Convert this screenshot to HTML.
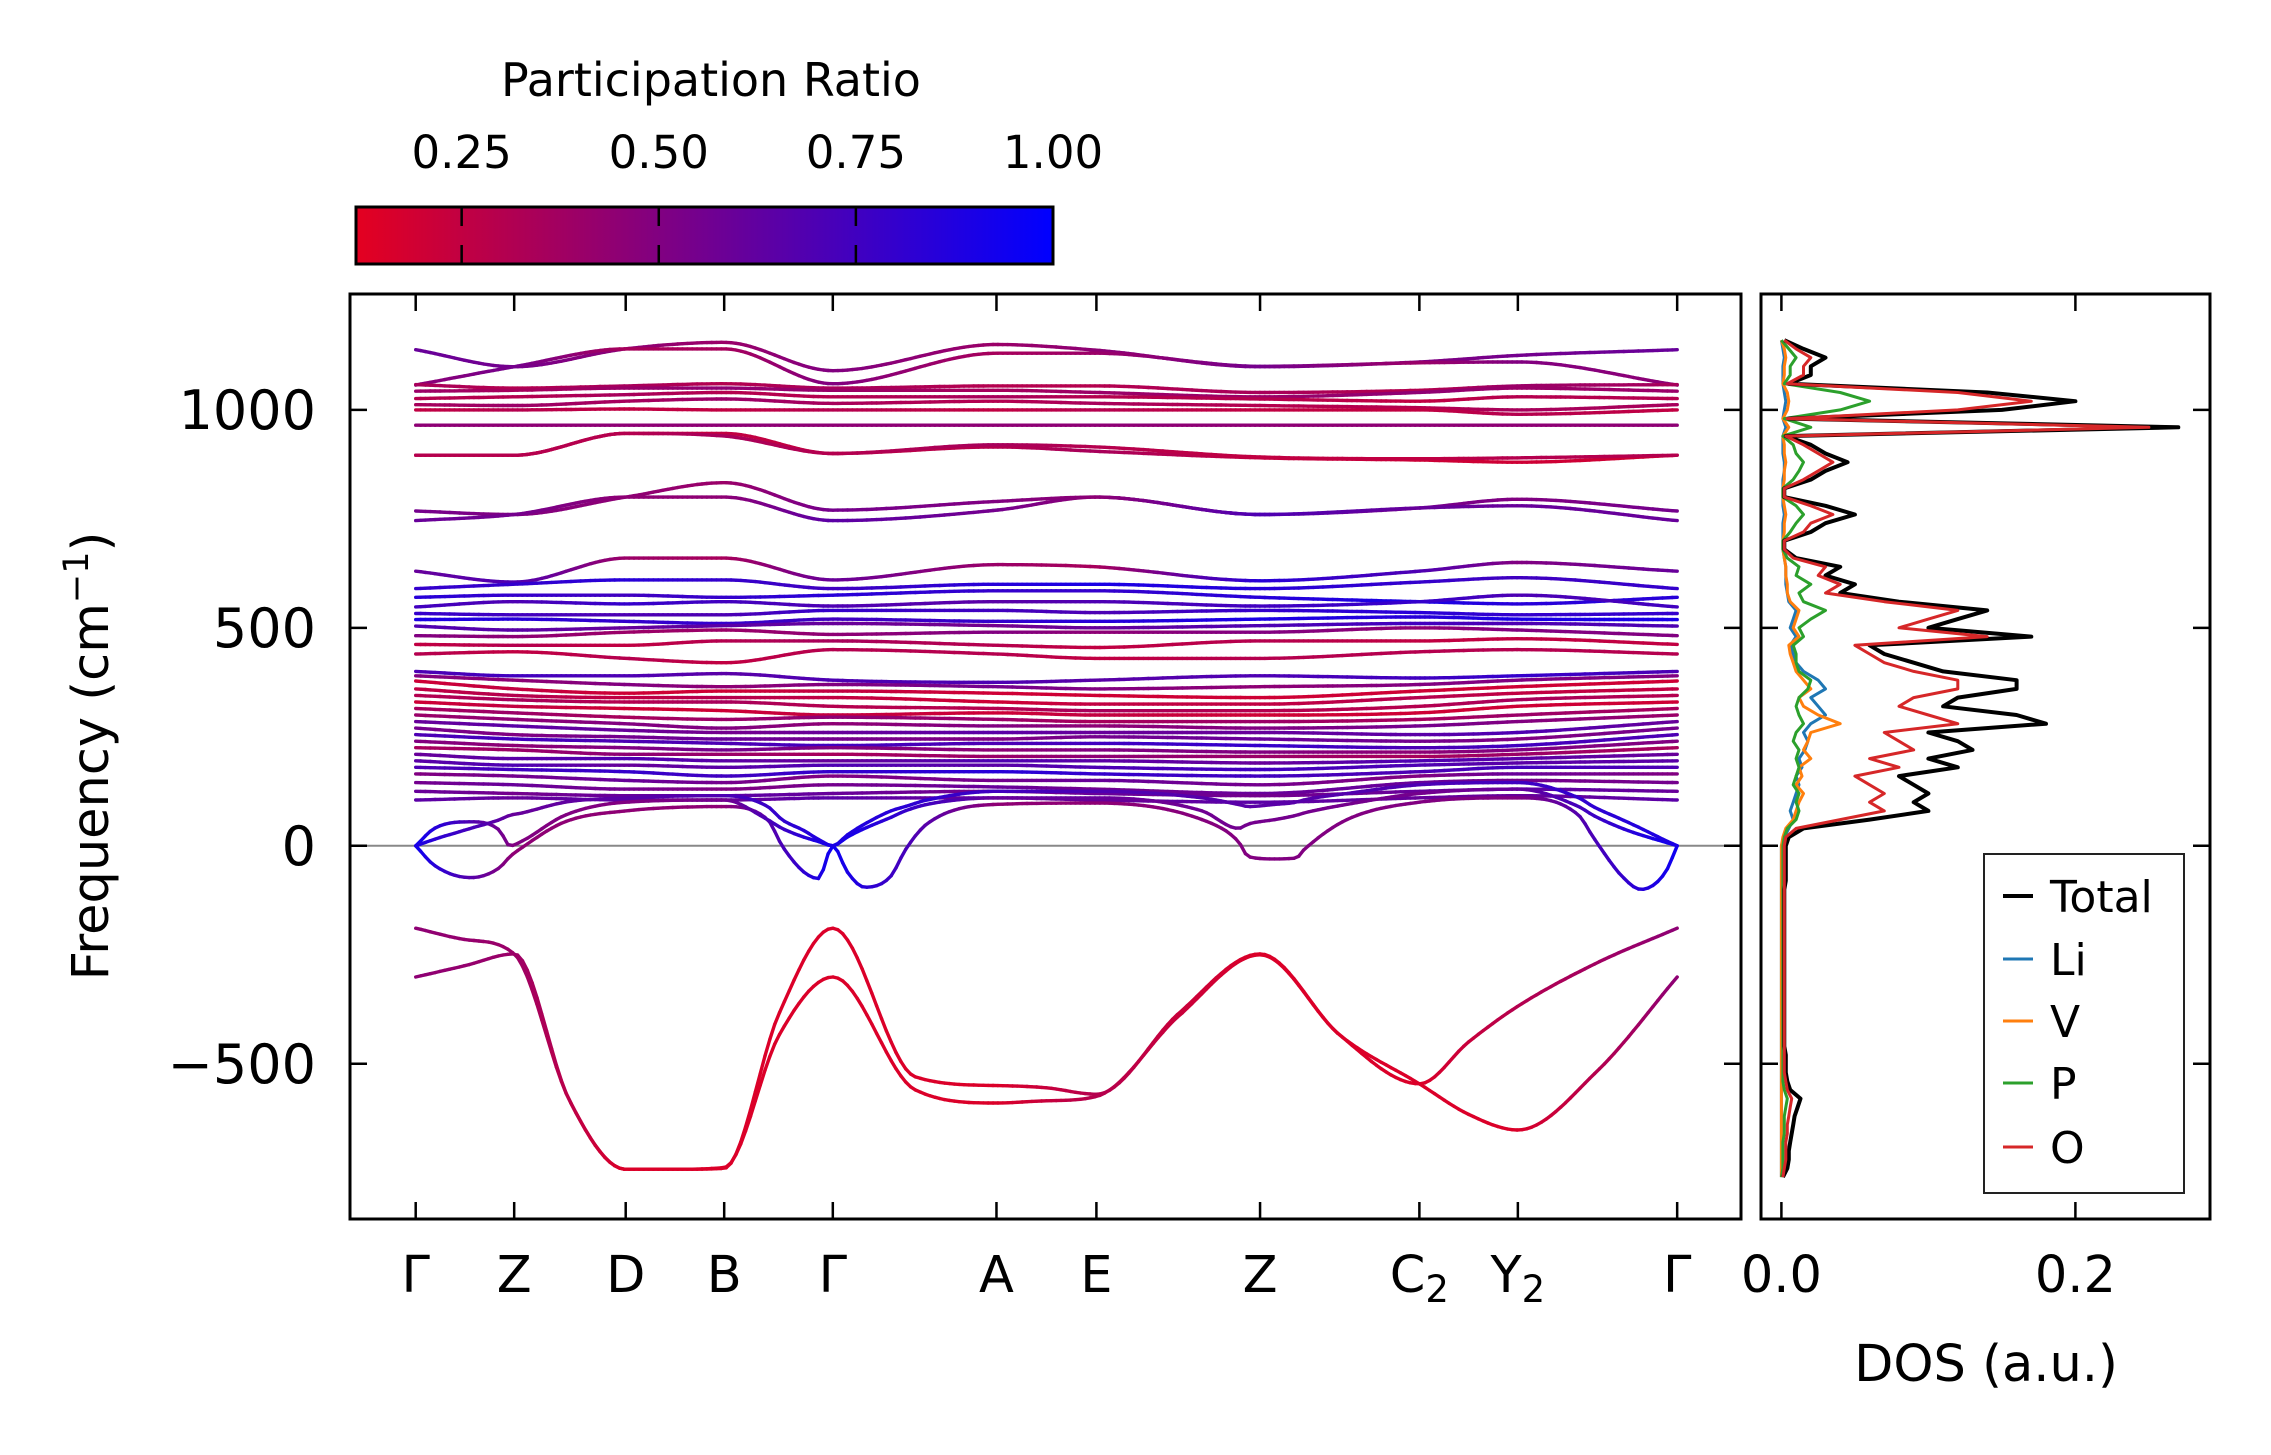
<!DOCTYPE html>
<html><head><meta charset="utf-8">
<style>
html,body{margin:0;padding:0;background:#fff;}
svg{display:block;font-family:"DejaVu Sans","Liberation Sans",sans-serif;}
</style></head>
<body>
<svg id="fig" width="2271" height="1455" viewBox="0 0 2271 1455" xmlns="http://www.w3.org/2000/svg">
<defs>
<linearGradient id="cmap" x1="0" x2="1" y1="0" y2="0">
<stop offset="0" stop-color="rgb(228,0,32)"/>
<stop offset="1" stop-color="rgb(0,0,255)"/>
</linearGradient>
</defs>
<rect x="0" y="0" width="2271" height="1455" fill="#fff"/>
<g id="colorbar">
<text x="711" y="96" font-size="46" text-anchor="middle">Participation Ratio</text>
<rect x="356" y="207" width="697" height="57" fill="url(#cmap)" stroke="#000" stroke-width="3"/>
</g>
<g id="bands"></g>
<g id="dos"></g>
<g id="axes"></g>
</svg>
<script>
// ---------- data ----------
const hsLabels = ["Γ","Z","D","B","Γ","A","E","Z","C2","Y2","Γ"];
const hsPos = [0, 68, 145, 213, 288, 401, 470, 583, 693, 761, 871];
const yTicks = [-500, 0, 500, 1000];
const dosTicks = [0.0, 0.2];
const cbTicks = [0.25, 0.50, 0.75, 1.00];

const opt = [
[1138,1099,1140,1155,1090,1150,1137,1099,1110,1125,1138],
[1057,1099,1140,1140,1060,1130,1130,1100,1108,1110,1057],
[1058,1050,1055,1060,1050,1055,1055,1040,1045,1055,1058],
[1043,1045,1050,1050,1045,1045,1040,1030,1040,1050,1043],
[1026,1030,1035,1040,1030,1030,1030,1025,1020,1030,1026],
[1012,1010,1020,1025,1015,1020,1015,1010,1005,1000,1012],
[1000,1000,1002,1000,1000,1000,1000,1000,1000,990,1000],
[965,965,965,965,965,965,965,965,965,965,965],
[896,896,946,946,900,915,905,890,885,880,896],
[896,896,946,940,900,920,915,892,888,890,896],
[768,760,800,833,770,790,800,760,775,795,768],
[746,760,800,800,746,770,800,760,775,780,746],
[630,605,660,660,610,645,640,608,630,650,630],
[590,600,610,610,590,600,600,590,605,615,590],
[570,575,575,570,575,585,585,570,560,555,570],
[548,560,555,560,550,560,560,550,560,575,548],
[533,530,530,530,540,540,535,540,535,530,533],
[519,520,515,510,520,515,515,520,525,520,519],
[504,495,500,505,510,505,500,505,510,510,504],
[482,480,490,495,485,490,490,490,500,495,482],
[462,460,460,470,470,460,455,470,470,475,462],
[440,445,430,420,450,440,430,430,445,450,440],
[400,390,390,395,380,375,380,390,385,390,400],
[390,380,370,365,370,365,360,365,370,380,390],
[378,360,350,355,355,350,345,340,355,365,378],
[360,345,340,340,340,330,325,325,340,350,360],
[345,335,330,330,320,315,310,310,320,335,345],
[330,320,315,310,300,305,300,300,305,320,330],
[315,305,295,290,295,290,285,285,290,300,315],
[300,290,280,270,280,275,275,270,275,285,300],
[285,275,265,260,260,260,260,260,255,260,285],
[270,255,250,245,245,245,250,245,240,245,270],
[255,245,240,235,230,235,235,230,225,230,255],
[240,230,225,220,225,220,220,215,215,220,240],
[225,220,210,210,210,205,205,205,205,210,225],
[210,200,200,195,195,195,195,190,195,200,210],
[195,185,185,180,185,185,180,175,185,190,195],
[180,175,170,160,170,170,165,160,170,180,180],
[165,160,150,145,160,150,150,140,160,165,165],
[145,140,130,130,140,135,130,120,145,150,145],
[125,120,115,115,120,125,120,115,125,130,125],
[105,110,105,105,110,110,105,100,110,115,105]
];
const optPR = [
[.6,.55,.45,.4,.5,.4,.45,.55,.5,.55,.6],
[.45,.55,.35,.35,.5,.35,.4,.55,.4,.5,.45],
[.35,.3,.35,.3,.35,.3,.3,.35,.3,.4,.35],
[.4,.35,.4,.45,.4,.35,.4,.4,.45,.4,.4],
[.3,.3,.35,.3,.3,.35,.3,.3,.25,.3,.3],
[.35,.4,.35,.4,.35,.3,.35,.3,.3,.35,.35],
[.25,.3,.25,.25,.3,.25,.3,.25,.25,.3,.25],
[.45,.45,.45,.45,.45,.45,.45,.45,.45,.45,.45],
[.2,.2,.2,.25,.25,.3,.35,.25,.2,.2,.2],
[.3,.3,.3,.35,.3,.35,.3,.25,.25,.3,.3],
[.55,.5,.45,.4,.55,.5,.45,.65,.55,.5,.55],
[.6,.55,.45,.45,.65,.55,.45,.7,.6,.6,.6],
[.6,.7,.4,.35,.6,.4,.35,.85,.7,.5,.6],
[.8,.8,.85,.8,.75,.85,.9,.85,.8,.75,.8],
[.85,.8,.75,.8,.85,.8,.8,.85,.9,.85,.85],
[.75,.7,.8,.75,.7,.65,.7,.75,.8,.7,.75],
[.8,.75,.7,.7,.8,.75,.7,.8,.85,.8,.8],
[.9,.85,.8,.8,.75,.8,.85,.9,.85,.9,.9],
[.7,.65,.6,.65,.6,.55,.6,.7,.75,.7,.7],
[.5,.45,.4,.4,.45,.5,.45,.5,.45,.5,.5],
[.25,.3,.25,.3,.35,.3,.25,.3,.25,.25,.25],
[.3,.25,.3,.25,.3,.3,.25,.3,.3,.3,.3],
[.7,.75,.7,.65,.7,.7,.65,.7,.75,.8,.7],
[.5,.45,.5,.45,.5,.55,.5,.45,.5,.5,.5],
[.2,.25,.2,.2,.25,.2,.2,.2,.2,.2,.2],
[.25,.3,.25,.3,.25,.2,.25,.25,.3,.25,.25],
[.3,.35,.3,.35,.3,.3,.35,.3,.3,.35,.3],
[.2,.25,.2,.2,.25,.2,.25,.2,.2,.2,.2],
[.35,.4,.35,.4,.45,.4,.35,.4,.35,.4,.35],
[.4,.45,.5,.5,.45,.5,.45,.5,.55,.5,.4],
[.6,.65,.6,.55,.6,.65,.6,.6,.65,.7,.6],
[.55,.5,.55,.6,.55,.5,.55,.6,.55,.5,.55],
[.7,.75,.7,.7,.75,.7,.75,.8,.7,.75,.7],
[.5,.45,.5,.55,.5,.45,.5,.5,.45,.5,.5],
[.35,.4,.45,.4,.35,.4,.45,.4,.35,.4,.35],
[.6,.65,.7,.65,.6,.7,.65,.6,.7,.65,.6],
[.65,.7,.6,.65,.7,.65,.7,.75,.7,.65,.65],
[.7,.75,.8,.75,.8,.85,.8,.75,.7,.75,.7],
[.5,.55,.6,.55,.5,.55,.6,.55,.5,.6,.5],
[.55,.6,.55,.5,.55,.6,.55,.6,.6,.55,.55],
[.6,.55,.6,.65,.6,.55,.6,.55,.6,.65,.6],
[.65,.6,.65,.6,.65,.6,.6,.65,.6,.6,.65]
];

const negK = [0,34,68,106,145,179,213,251,288,345,401,435,470,527,583,638,693,727,761,816,871];
const negBand1 = [-189,-215,-248,-583,-742,-742,-740,-384,-189,-530,-550,-555,-570,-384,-248,-434,-546,-450,-368,-268,-189];
const negBand2 = [-301,-275,-248,-583,-742,-742,-738,-434,-301,-560,-590,-585,-575,-390,-250,-434,-546,-616,-652,-516,-301];
const negPR1 = [.45,.4,.15,.15,.15,.15,.3,.15,.15,.3,.45];
const negPR2 = [.45,.4,.15,.15,.15,.15,.3,.15,.15,.15,.45];

const acK = [0,13,38,58,65,73,103,145,213,243,253,268,278,288,298,310,328,338,353,401,470,543,568,575,593,608,613,643,693,761,803,813,833,846,863,871];
const acA = [0,-45,-73,-50,-25,-5,55,80,90,60,0,-60,-75,0,-60,-95,-70,-10,50,95,98,60,10,-25,-30,-28,-10,60,100,110,70,20,-70,-100,-60,0];
const acB = [0,40,55,35,0,10,70,100,105,60,40,20,10,0,20,40,65,80,95,110,110,80,40,50,60,70,75,95,120,130,90,70,40,25,8,0];
const acC = [0,15,40,60,70,75,100,110,115,90,60,35,15,0,25,50,80,90,105,125,125,110,95,90,95,100,105,120,140,145,110,90,60,40,12,0];
const acPR_A = [.95,.45,.45,.45,.95,.45,.45,.5,.5,.5,.95];
const acPR_B = [.95,.5,.5,.55,.95,.6,.6,.55,.55,.6,.95];
const acPR_C = [.9,.6,.65,.7,.9,.75,.7,.65,.7,.75,.9];

const dosFreq = [-760,-740,-720,-700,-680,-660,-640,-620,-600,-580,-560,-540,-520,-500,-480,-460,-440,-420,-400,-380,-360,-340,-320,-300,-280,-260,-240,-220,-200,-180,-160,-140,-120,-100,-80,-60,-40,-20,0,20,40,60,80,100,120,140,160,180,200,220,240,260,280,300,320,340,360,380,400,420,440,460,480,500,520,540,560,580,600,620,640,660,680,700,720,740,760,780,800,820,840,860,880,900,920,940,960,980,1000,1020,1040,1060,1080,1100,1120,1140,1160];
const dosTotal = [.001,.004,.005,.005,.006,.007,.008,.009,.011,.013,.006,.004,.003,.003,.003,.002,.002,.002,.002,.002,.002,.002,.002,.002,.002,.002,.002,.002,.002,.002,.002,.002,.002,.002,.003,.003,.003,.003,.003,.005,.015,.06,.10,.09,.10,.09,.08,.12,.10,.13,.12,.10,.18,.16,.11,.12,.16,.16,.11,.09,.07,.06,.17,.10,.12,.14,.08,.04,.05,.03,.04,.01,.002,.002,.02,.03,.05,.03,.002,.002,.02,.03,.045,.03,.02,.003,.27,.005,.15,.2,.14,.005,.02,.02,.03,.015,.002];
const dosO = [.001,.002,.003,.003,.003,.004,.004,.005,.006,.007,.004,.003,.002,.002,.002,.002,.002,.002,.002,.002,.002,.002,.002,.002,.002,.002,.002,.002,.002,.002,.002,.002,.002,.002,.002,.002,.002,.002,.002,.003,.01,.04,.07,.06,.07,.06,.05,.08,.06,.09,.08,.07,.12,.10,.08,.09,.12,.12,.09,.07,.06,.05,.14,.08,.10,.12,.07,.03,.04,.025,.03,.008,.002,.002,.015,.02,.035,.02,.002,.002,.015,.025,.035,.025,.015,.003,.25,.004,.12,.17,.12,.004,.015,.015,.02,.01,.002];
const dosLi = [0,0,0,0,0,0,0,0,0,0,0,0,0,0,0,0,0,0,0,0,0,0,0,0,0,0,0,0,0,0,0,0,0,0,0,0,0,0,0,.002,.005,.008,.006,.008,.010,.012,.010,.014,.012,.016,.018,.015,.02,.03,.025,.02,.03,.025,.015,.01,.008,.006,.01,.006,.008,.01,.005,.004,.003,.003,.003,.002,.001,.001,.001,.001,.002,.001,.001,.001,.001,.002,.002,.001,.001,.001,.003,.001,.002,.003,.002,.001,.001,.001,.002,.001,0];
const dosV = [0,0,0,0,0,0,0,0,0,0,0,0,0,0,0,0,0,0,0,0,0,0,0,0,0,0,0,0,0,0,0,0,0,0,0,0,0,0,0,.001,.003,.008,.01,.012,.015,.01,.014,.012,.02,.015,.018,.02,.04,.025,.015,.012,.02,.015,.01,.008,.006,.005,.012,.008,.01,.012,.006,.004,.004,.003,.003,.002,.001,.001,.002,.002,.003,.002,.001,.001,.002,.002,.003,.002,.002,.001,.005,.001,.004,.005,.004,.001,.002,.002,.003,.002,0];
const dosP = [0,.001,.001,.001,.001,.002,.002,.002,.003,.004,.002,.001,.001,.001,.001,.001,.001,.001,.001,.001,.001,.001,.001,.001,.001,.001,.001,.001,.001,.001,.001,.001,.001,.001,.001,.001,.001,.001,.001,.002,.004,.01,.012,.01,.012,.008,.01,.012,.01,.012,.008,.01,.015,.012,.01,.012,.018,.02,.012,.01,.01,.008,.015,.012,.02,.03,.015,.012,.02,.01,.012,.004,.001,.001,.006,.01,.015,.01,.001,.001,.008,.012,.015,.01,.008,.001,.02,.002,.04,.06,.04,.002,.006,.006,.01,.005,0];

// ---------- axes mapping ----------
const mainL=350, mainR=1741, mainT=294, mainB=1219;
const dosL=1761, dosR=2210;
function X(k){ return 415.7 + k*1.4483; }
function Y(f){ return 845.8 - f*0.4359; }
function XD(d){ return 1781.4 + d*1470; }
function cbX(v){ return 356 + (v-0.116)/(1-0.116)*697; }

const NS="http://www.w3.org/2000/svg";
function mk(tag, parent, attrs){
  const el=document.createElementNS(NS,tag);
  for(const k in attrs) el.setAttribute(k, attrs[k]);
  parent.appendChild(el); return el;
}
function monotone(xs, ys){
  const n=xs.length, d=[], m=new Array(n);
  for(let i=0;i<n-1;i++) d.push((ys[i+1]-ys[i])/(xs[i+1]-xs[i]));
  m[0]=d[0]; m[n-1]=d[n-2];
  for(let i=1;i<n-1;i++){ m[i]=(d[i-1]*d[i]<=0)?0:(d[i-1]+d[i])/2; }
  for(let i=0;i<n-1;i++){
    if(d[i]===0){m[i]=0;m[i+1]=0;continue;}
    const a=m[i]/d[i], b=m[i+1]/d[i], s=a*a+b*b;
    if(s>9){const t=3/Math.sqrt(s); m[i]=t*a*d[i]; m[i+1]=t*b*d[i];}
  }
  return function(x){
    let i=0; while(i<n-2 && x>xs[i+1]) i++;
    const h=xs[i+1]-xs[i], t=(x-xs[i])/h, t2=t*t, t3=t2*t;
    return (2*t3-3*t2+1)*ys[i]+(t3-2*t2+t)*h*m[i]+(-2*t3+3*t2)*ys[i+1]+(t3-t2)*h*m[i+1];
  };
}
function lin(xs, ys, x){
  let i=0; while(i<xs.length-2 && x>xs[i+1]) i++;
  const t=(x-xs[i])/(xs[i+1]-xs[i]);
  return ys[i]+(ys[i+1]-ys[i])*t;
}
function color(pr){
  let t=(pr-0.116)/(1-0.116); t=Math.max(0,Math.min(1,t));
  return "rgb("+Math.round(228*(1-t))+",0,"+Math.round(32+223*t)+")";
}

const gB=document.getElementById('bands');
const zl=mk('line',gB,{x1:mainL,x2:mainR,y1:Y(0),y2:Y(0),stroke:'#888','stroke-width':2});



function drawBand(kx, fv, pr, name){
  const f=monotone(kx, fv);
  const g=mk('g',gB,{});
  
  
  const N=260;
  let px=null, py=null;
  for(let s=0;s<=N;s++){
    const k=s/N*871;
    const x=X(k), y=Y(f(k));
    if(px!==null){
      const c=color(lin(hsPos, pr, k-871/N/2));
      const seg=mk('line',g,{x1:px.toFixed(1),y1:py.toFixed(1),x2:x.toFixed(1),y2:y.toFixed(1),stroke:c,'stroke-width':3.4,'stroke-linecap':'round'});
      
      
    }
    px=x; py=y;
  }
}
opt.forEach((b,i)=>drawBand(hsPos, b, optPR[i], 'optical-band-'+(i+1)));
drawBand(negK, negBand1, negPR1, 'imaginary-band-1');
drawBand(negK, negBand2, negPR2, 'imaginary-band-2');
drawBand(acK, acA, acPR_A, 'acoustic-band-1');
drawBand(acK, acB, acPR_B, 'acoustic-band-2');
drawBand(acK, acC, acPR_C, 'acoustic-band-3');

const gD=document.getElementById('dos');
const series=[[dosLi,'#1f77b4','dos-li'],[dosV,'#ff7f0e','dos-v'],[dosP,'#2ca02c','dos-p'],[dosTotal,'#000000','dos-total'],[dosO,'#d62728','dos-o']];
series.forEach(s=>{
  const pts=s[0].map((d,i)=>XD(d).toFixed(1)+','+Y(dosFreq[i]).toFixed(1)).join(' ');
  const pl=mk('polyline',gD,{points:pts,fill:'none',stroke:s[1],'stroke-width':s[2]==='dos-total'?4:3,'stroke-linejoin':'round'});
  
  
});

const gA=document.getElementById('axes');
function frame(x,y,w,h,name){
  const r=mk('rect',gA,{x:x,y:y,width:w,height:h,fill:'none',stroke:'#000','stroke-width':3});
  
  
}
frame(mainL,mainT,mainR-mainL,mainB-mainT,'band-axes-frame');
frame(dosL,mainT,dosR-dosL,mainB-mainT,'dos-axes-frame');
const TL=17;
function tick(x1,y1,x2,y2,name){
  const t=mk('line',gA,{x1:x1,y1:y1,x2:x2,y2:y2,stroke:'#000','stroke-width':2.5});
  
  
}
function label(x,y,txt,size,anchor,name){
  const t=mk('text',gA,{x:x,y:y,'font-size':size,'text-anchor':anchor});
  t.textContent=txt;
  
  
  return t;
}
hsPos.forEach((k,i)=>{
  const x=X(k);
  tick(x,mainB,x,mainB-TL,'x-tick');
  tick(x,mainT,x,mainT+TL,'x-tick-top');
  const lb=hsLabels[i];
  if(lb.length>1){
    const t=label(x,1292,'',51,'middle','x-tick-label');
    const a=document.createElementNS(NS,'tspan'); a.textContent=lb[0]; t.appendChild(a);
    const b=document.createElementNS(NS,'tspan'); b.textContent=lb[1]; b.setAttribute('font-size','37'); b.setAttribute('dy','10'); t.appendChild(b);
  } else label(x,1292,lb,51,'middle','x-tick-label');
});
yTicks.forEach(v=>{
  const y=Y(v);
  tick(mainL,y,mainL+TL,y,'y-tick');
  tick(mainR,y,mainR-TL,y,'y-tick-right');
  tick(dosL,y,dosL+TL,y,'dos-y-tick');
  tick(dosR,y,dosR-TL,y,'dos-y-tick-right');
  label(316,y+19,(v<0?'\u2212'+(-v):String(v)),54,'end','y-tick-label');
});
dosTicks.forEach(v=>{
  const x=XD(v);
  tick(x,mainB,x,mainB-TL,'dos-x-tick');
  tick(x,mainT,x,mainT+TL,'dos-x-tick-top');
  label(x,1292,v.toFixed(1),51,'middle','dos-x-tick-label');
});
const yl=label(0,0,'',51,'middle','y-axis-title');
yl.setAttribute('transform','translate(108,756) rotate(-90)');
yl.innerHTML='Frequency (cm<tspan font-size="35" dy="-20">−1</tspan><tspan dy="20">)</tspan>';
label(1986,1381,'DOS (a.u.)',51,'middle','dos-x-axis-title');

const gC=document.getElementById('colorbar');
cbTicks.forEach(v=>{
  const x=cbX(v);
  if(v<1){
    const t=mk('line',gC,{x1:x,x2:x,y1:207,y2:226,stroke:'#000','stroke-width':2.5});
    
    
    const t2=mk('line',gC,{x1:x,x2:x,y1:264,y2:245,stroke:'#000','stroke-width':2.5});
    
    
  }
  const tx=mk('text',gC,{x:x,y:168,'font-size':45,'text-anchor':'middle'});
  tx.textContent=v.toFixed(2);
  
  
});

const gL=mk('g',gA,{});


const lbx=mk('rect',gL,{x:1984,y:854,width:200,height:339,fill:'#fff',stroke:'#222','stroke-width':2});


const legNames=['Total','Li','V','P','O'];
const legCols=['#000000','#1f77b4','#ff7f0e','#2ca02c','#d62728'];
const legY=[896,959,1021,1083,1147];
legNames.forEach((n,i)=>{
  const l=mk('line',gL,{x1:2003,x2:2033,y1:legY[i],y2:legY[i],stroke:legCols[i],'stroke-width':i===0?4:3});
  
  
  const t=mk('text',gL,{x:2050,y:legY[i]+16,'font-size':44});
  t.textContent=n;
  
  
});
</script>
</body></html>
